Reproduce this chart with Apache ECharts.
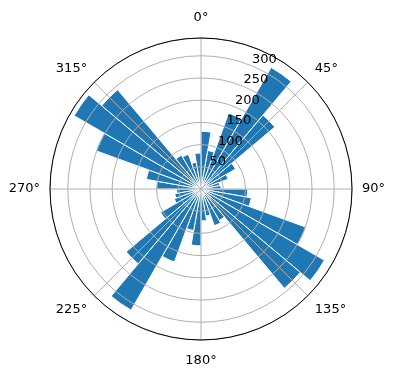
<!DOCTYPE html>
<html>
<head>
<meta charset="utf-8">
<script src="https://cdn.jsdelivr.net/npm/echarts@6/dist/echarts.min.js"></script>
<style>
  html, body { margin: 0; padding: 0; background: #fff; }
  #chart { width: 396px; height: 380px; }
</style>
</head>
<body>
<div id="chart"></div>
<script>
// direction bins (degrees, clockwise from north), 10 degrees wide
const binStarts = [0, 10, 20, 30, 40, 50, 60, 70, 80, 90, 100, 110,
  120, 130, 140, 150, 160, 170, 180, 190, 200, 210, 220, 230,
  240, 250, 260, 270, 280, 290, 300, 310, 320, 330, 340, 350];
const counts = [130, 88, 182, 316, 217, 90, 65, 43, 45, 105, 115, 252,
  321, 292, 82, 88, 62, 72, 128, 95, 175, 315, 220, 105,
  64, 60, 55, 100, 125, 252, 330, 292, 88, 83, 61, 81];
const thetaTicks = [0, 45, 90, 135, 180, 225, 270, 315];
const rTicks = [50, 100, 150, 200, 250, 300];
const rMax = 340;

const font = "DejaVu Sans";
const center = [201, 189];
const radius = 151;
const gridColor = "#b0b0b0";

const chart = echarts.init(document.getElementById("chart"));

chart.setOption({
  animation: false,
  backgroundColor: "#fff",
  textStyle: { fontFamily: font },
  polar: [
    { center: center, radius: radius },
    { center: center, radius: radius },
    { center: center, radius: radius },
  ],
  angleAxis: [
    {
      // bars
      polarIndex: 0,
      type: "category",
      data: binStarts.map((d) => String(d)),
      startAngle: 90,
      clockwise: true,
      boundaryGap: true,
      axisLine: { show: false },
      axisTick: { show: false },
      axisLabel: { show: false },
      splitLine: { show: false },
    },
    {
      // grid + theta labels
      polarIndex: 1,
      type: "value",
      min: 0,
      max: 360,
      interval: 45,
      startAngle: 90,
      clockwise: true,
      z: 10,
      axisLine: { show: true, lineStyle: { color: "#000", width: 1 } },
      axisTick: { show: false },
      axisLabel: {
        margin: 10,
        color: "#000",
        fontSize: 13,
        fontFamily: font,
        formatter: (v) => {
          if (!thetaTicks.includes(v)) return "";
          if (v === 0) return "{t|0°}";
          if (v === 180) return "{b|180°}";
          return v + "°";
        },
        rich: {
          t: { fontSize: 13, fontFamily: font, color: "#000", padding: [0, 0, 4, 0] },
          b: { fontSize: 13, fontFamily: font, color: "#000", padding: [4, 0, 0, 0] },
        },
      },
      splitLine: { show: true, lineStyle: { color: gridColor, width: 1 } },
    },
    {
      // carries the r labels at 22.5 deg
      polarIndex: 2,
      type: "value",
      min: 0,
      max: 360,
      startAngle: 67.5,
      clockwise: true,
      show: false,
    },
  ],
  radiusAxis: [
    { polarIndex: 0, type: "value", min: 0, max: rMax, show: false },
    {
      polarIndex: 1,
      type: "value",
      min: 0,
      max: rMax,
      interval: 50,
      z: 10,
      axisLine: { show: false },
      axisTick: { show: false },
      axisLabel: { show: false },
      splitLine: { show: true, lineStyle: { color: gridColor, width: 1 } },
    },
    {
      polarIndex: 2,
      type: "value",
      min: 0,
      max: rMax,
      interval: 50,
      z: 11,
      axisLine: { show: false },
      axisTick: { show: false },
      splitLine: { show: false },
      axisLabel: {
        margin: 0,
        rotate: 0,
        align: "left",
        verticalAlign: "bottom",
        color: "#000",
        fontSize: 13,
        fontFamily: font,
        showMinLabel: false,
        showMaxLabel: false,
        formatter: (v) => (rTicks.includes(v) ? String(v) : ""),
      },
    },
  ],
  series: [
    {
      type: "bar",
      coordinateSystem: "polar",
      polarIndex: 0,
      data: counts,
      barCategoryGap: "0%",
      itemStyle: { color: "#1f77b4", borderColor: "#fff", borderWidth: 1 },
    },
  ],
});
</script>
</body>
</html>
